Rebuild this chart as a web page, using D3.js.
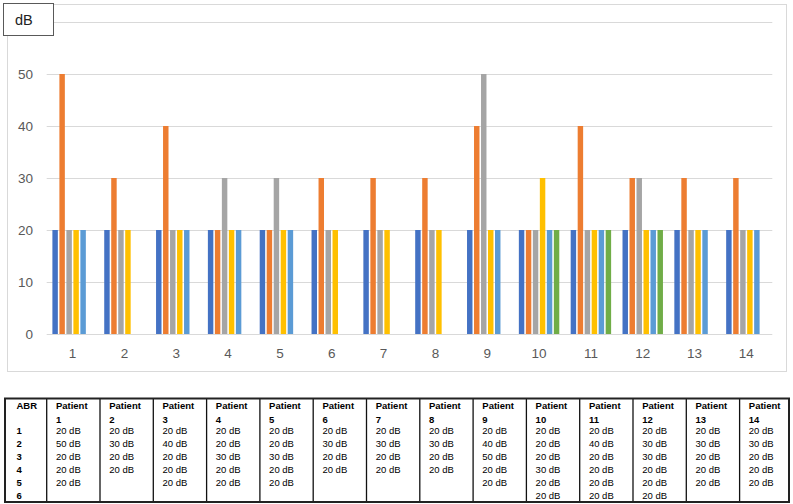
<!DOCTYPE html>
<html>
<head>
<meta charset="utf-8">
<script src="https://cdn.jsdelivr.net/npm/d3@7"></script>
<style>
  html, body { margin: 0; padding: 0; background: #fff; }
  svg { display: block; }
</style>
</head>
<body>
<svg id="chart" width="793" height="504"></svg>
<script>
// ---- Data ----
const patients = ["1","2","3","4","5","6","7","8","9","10","11","12","13","14"];
const abrLabels = ["1","2","3","4","5","6"];
// value per ABR (series) for each patient; null = not measured
const abr1 = [20,20,20,20,20,20,20,20,20,20,20,20,20,20];
const abr2 = [50,30,40,20,20,30,30,30,40,20,40,30,30,30];
const abr3 = [20,20,20,30,30,20,20,20,50,20,20,30,20,20];
const abr4 = [20,20,20,20,20,20,20,20,20,30,20,20,20,20];
const abr5 = [20,null,20,20,20,null,null,null,20,20,20,20,20,20];
const abr6 = [null,null,null,null,null,null,null,null,null,20,20,20,null,null];
const yTicks = [0,10,20,30,40,50,60];
const yLabels = [0,10,20,30,40,50];
const seriesColors = ["#4472C4","#ED7D31","#A5A5A5","#FFC000","#5B9BD5","#70AD47"];
const series = [abr1, abr2, abr3, abr4, abr5, abr6];

const svg = d3.select("#chart");
const ff = "Liberation Sans, Arial, sans-serif";

// ---- Chart frame ----
svg.append("rect").attr("x", 7.5).attr("y", 4.5).attr("width", 779).attr("height", 367)
  .attr("fill", "#fff").attr("stroke", "#d9d9d9").attr("stroke-width", 1);

const plotLeft = 46.7, plotRight = 772.3;
const y = d3.scaleLinear().domain([0, 60]).range([334, 22]);
const x0 = d3.scaleBand().domain(patients).range([plotLeft, plotRight])
  .paddingInner(0.19).paddingOuter(0.095);
const x1 = d3.scaleBand().domain(d3.range(series.length)).range([0, x0.bandwidth()])
  .paddingInner(0.22).paddingOuter(0.11);

// gridlines
svg.append("g").selectAll("line").data(yTicks).join("line")
  .attr("x1", plotLeft).attr("x2", plotRight)
  .attr("y1", d => Math.round(y(d)) + 0.5).attr("y2", d => Math.round(y(d)) + 0.5)
  .attr("stroke", "#d9d9d9").attr("stroke-width", 1);

// y tick labels
svg.append("g").selectAll("text").data(yLabels).join("text")
  .attr("x", 33).attr("y", d => y(d) + 5)
  .attr("text-anchor", "end")
  .attr("font-family", ff)
  .attr("font-size", 13.5).attr("fill", "#595959")
  .text(d => d);

// bars
const rows = [];
patients.forEach((p, i) => {
  series.forEach((s, k) => {
    if (s[i] != null) rows.push({p, k, v: s[i]});
  });
});
svg.append("g").selectAll("rect").data(rows).join("rect")
  .attr("x", d => x0(d.p) + x1(d.k))
  .attr("width", x1.bandwidth())
  .attr("y", d => y(d.v))
  .attr("height", d => y(0) - y(d.v))
  .attr("fill", d => seriesColors[d.k]);

// x labels
svg.append("g").selectAll("text").data(patients).join("text")
  .attr("x", d => x0(d) + x0.bandwidth() / 2).attr("y", 358)
  .attr("text-anchor", "middle")
  .attr("font-family", ff)
  .attr("font-size", 13.5).attr("fill", "#595959")
  .text(d => d);

// dB box
svg.append("rect").attr("x", 3.5).attr("y", 3.5).attr("width", 50).attr("height", 32)
  .attr("fill", "#fff").attr("stroke", "#595959").attr("stroke-width", 1);
svg.append("text").attr("x", 15).attr("y", 25)
  .attr("font-family", ff)
  .attr("font-size", 14.5).attr("fill", "#222").text("dB");

// ---- Table ----
const tTop = 398.5, tBottom = 502, tLeft = 5, tRight = 789, abrColRight = 46.7;
const xc = d3.scaleBand().domain(patients).range([abrColRight, abrColRight + 14 * 53.3]);
const tableG = svg.append("g");
// vertical separators
tableG.selectAll("line.sep").data(patients).join("line")
  .attr("x1", d => xc(d)).attr("x2", d => xc(d))
  .attr("y1", tTop).attr("y2", tBottom)
  .attr("stroke", "#111").attr("stroke-width", 1.3);
tableG.append("rect").attr("x", tLeft).attr("y", tTop)
  .attr("width", tRight - tLeft).attr("height", tBottom - tTop)
  .attr("fill", "none").attr("stroke", "#222").attr("stroke-width", 2);

const headY = 409.2, numY = 422.5;
const rowY = d3.scaleLinear().domain([0, 5]).range([433.6, 499]);

tableG.append("text").attr("x", 16.5).attr("y", headY)
  .attr("font-family", ff).attr("font-size", 9.5).attr("font-weight", "bold").text("ABR");
tableG.selectAll("text.abr").data(abrLabels).join("text")
  .attr("x", 16.5).attr("y", (d, i) => rowY(i))
  .attr("font-family", ff).attr("font-size", 9.5).attr("font-weight", "bold").text(d => d);

patients.forEach((p, i) => {
  const cx = xc(p) + 9.2;
  tableG.append("text").attr("x", cx).attr("y", headY)
    .attr("font-family", ff).attr("font-size", 9.5).attr("font-weight", "bold").text("Patient");
  tableG.append("text").attr("x", cx).attr("y", numY)
    .attr("font-family", ff).attr("font-size", 9.5).attr("font-weight", "bold").text(p);
  series.forEach((s, k) => {
    if (s[i] != null) {
      tableG.append("text").attr("x", cx).attr("y", rowY(k))
        .attr("font-family", ff).attr("font-size", 9.5).text(s[i] + " dB");
    }
  });
});
</script>
</body>
</html>
